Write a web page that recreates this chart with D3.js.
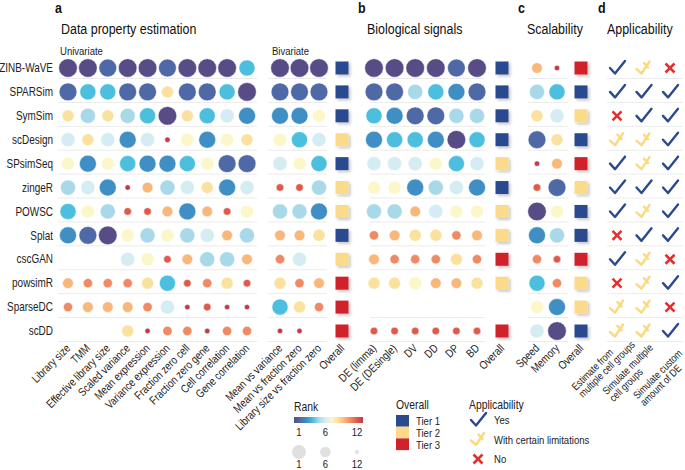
<!DOCTYPE html>
<html>
<head>
<meta charset="utf-8">
<script src="https://cdn.jsdelivr.net/npm/d3@7"></script>
<style>
body { margin: 0; background: #fff; }
svg { font-family: "Liberation Sans", Arial, sans-serif; }
</style>
</head>
<body>
<svg width="685" height="470"></svg>
<script>
// --- data ---
var methods = ["ZINB-WaVE", "SPARSim", "SymSim", "scDesign", "SPsimSeq", "zingeR", "POWSC", "Splat", "cscGAN", "powsimR", "SparseDC", "scDD"];

var univariateCols = ["Library size", "TMM", "Effective library size", "Scaled variance", "Mean expression", "Variance expression", "Fraction zero cell", "Fraction zero gene", "Cell correlation", "Gene correlation"];
var univariateRanks = [
    [1, 1, 2, 1, 1, 2, 1, 1, 1, 4],
    [2, 4, 4, 2, 2, 8, 2, 2, 4, 1],
    [8, 5, 8, 5, 4, 1, 8, 4, 6, 3],
    [6, 8, 6, 3, 6, 12, 7, 3, 7, 8],
    [7, 3, 7, 4, 3, 3, 4, 7, 2, 2],
    [5, 6, 3, 12, 9, 5, 6, 8, 3, 6],
    [4, 7, 5, 11, 11, 9, 3, 9, 11, 7],
    [3, 2, 1, 7, 5, 7, 5, 6, 9, 5],
    [null, null, null, 6, 7, 11, 9, 5, 5, 9],
    [9, 10, 10, 10, 8, 4, 11, 10, 8, 11],
    [10, 9, 9, 9, 10, 6, 12, 11, 12, 12],
    [null, null, null, 8, 12, 10, 10, 12, 10, 10]
];

var bivariateCols = ["Mean vs variance", "Mean vs fraction zero", "Library size vs fraction zero"];
var bivariateRanks = [
    [1, 1, 1], [2, 2, 2], [3, 3, 7], [7, 4, 6], [6, 7, 4], [11, 11, 5],
    [5, 5, 3], [9, 9, 8], [10, 6, null], [8, 10, 9], [4, 8, 10], [12, 12, null]
];
var propertyTier = [1, 1, 1, 2, 1, 2, 2, 1, 2, 3, 3, 3];

var bioCols = ["DE (limma)", "DE (DEsingle)", "DV", "DD", "DP", "BD"];
var bioRanks = [
    [1, 1, 1, 1, 2, 1],
    [2, 2, 5, 4, 3, 2],
    [4, 3, 2, 2, 5, 5],
    [3, 4, 4, 3, 1, 4],
    [6, 6, 6, 7, 4, 6],
    [7, 7, 3, 5, 6, 3],
    [5, 5, 9, 6, 7, 7],
    [10, 9, 8, 8, 10, 9],
    [9, 10, 10, 10, 8, 10],
    [8, 8, 7, 9, 9, 8],
    [null, null, null, null, null, null],
    [11, 11, 11, 11, 11, 11]
];
var bioTier = [1, 1, 1, 1, 2, 1, 2, 2, 3, 2, null, 3];

var scaleCols = ["Speed", "Memory"];
var scaleRanks = [
    [9, 12], [5, 4], [8, 6], [2, 8], [12, 9], [11, 2],
    [1, 7], [3, 5], [10, 11], [4, 10], [7, 3], [6, 1]
];
var scaleTier = [3, 1, 2, 1, 3, 2, 1, 1, 3, 2, 2, 1];

var applyCols = [["Estimate from", "multiple cell groups"], ["Simulate multiple", "cell groups"], ["Simulate custom", "amount of DE"]];
var applicability = [
    ["yes", "limited", "no"],
    ["yes", "yes", "yes"],
    ["no", "yes", "yes"],
    ["limited", "limited", "yes"],
    ["yes", "limited", "yes"],
    ["yes", "yes", "yes"],
    ["yes", "limited", "yes"],
    ["no", "yes", "yes"],
    ["yes", "limited", "no"],
    ["no", "limited", "yes"],
    ["limited", "limited", "no"],
    ["limited", "limited", "yes"]
];

var tierNames = ["Tier 1", "Tier 2", "Tier 3"];
var applyNames = [["yes", "Yes"], ["limited", "With certain limitations"], ["no", "No"]];
var rankTicks = [1, 6, 12];

// --- styles ---
var rankColors = ["#574c86", "#4f69a6", "#3f8fc5", "#4bbfdd", "#a9d9e9", "#d6ecf3",
                  "#fbf7cb", "#fbe19e", "#f8b87c", "#f08a64", "#df5a4b", "#c13a46"];
var tierColors = ["#2b4a8e", "#fbdb8a", "#d0222a"];
var applyColors = {yes: "#2b4a8e", limited: "#fbd97f", no: "#e0302f"};
var SQUEEZE = 0.83;   // the original font is narrower than Arial

var svg = d3.select("svg");

var defs = svg.append("defs");
defs.append("filter").attr("id", "shadow")
    .attr("x", "-50%").attr("y", "-50%").attr("width", "200%").attr("height", "200%")
  .append("feDropShadow")
    .attr("dx", 2).attr("dy", 2).attr("stdDeviation", 1.6)
    .attr("flood-color", "#000").attr("flood-opacity", 0.22);

var color = d3.scaleLinear().domain(d3.range(1, 13)).range(rankColors);
var size = d3.scaleSqrt().domain([0, 12]).range([0, 9.3]);

var y = d3.scalePoint().domain(methods).range([68, 331]);

var xUni = d3.scalePoint().domain(univariateCols).range([68, 247]);
var xBi = d3.scalePoint().domain(bivariateCols).range([280, 319]);
var xBio = d3.scalePoint().domain(bioCols).range([374, 477]);
var xScal = d3.scalePoint().domain(scaleCols).range([537, 557]);
var xApp = d3.scalePoint().domain(applyCols.map(function(d) { return d.join(" "); })).range([617, 670]);
var overallX = {a: 342, b: 502, c: 581};

// squeezed text helper
function txt(parent, x, yy, str, fs, opt) {
    opt = opt || {};
    var g = parent.append("g")
        .attr("transform", "translate(" + x + "," + yy + ")" + (opt.rot ? " rotate(" + opt.rot + ")" : "") + " scale(" + SQUEEZE + ",1)");
    return g.append("text")
        .attr("text-anchor", opt.anchor || "start")
        .attr("dy", opt.dy || null)
        .style("font-size", fs)
        .style("font-weight", opt.weight || "normal")
        .attr("fill", opt.fill || "#222")
        .text(str);
}

// row labels
var rowG = svg.append("g");
methods.forEach(function(m) {
    txt(rowG, 53, y(m), m, "12px", {anchor: "end", dy: "0.35em"});
});

// row separator lines
function rowLines(x0, x1, skip) {
    svg.append("g").selectAll("line")
        .data(methods)
        .enter().append("line")
        .attr("x1", x0).attr("x2", x1)
        .attr("y1", function(d) { return y(d) + 10.5; })
        .attr("y2", function(d) { return y(d) + 10.5; })
        .attr("stroke", "#ebebeb")
        .attr("stroke-width", 1)
        .style("display", function(d, i) { return skip && skip(i) ? "none" : null; });
}
rowLines(58, 257);
rowLines(268, 327);
rowLines(370, 485, function(i) { return i == 9; });
rowLines(528, 568);
rowLines(607, 683);

function dots(cols, ranks, x) {
    var cells = [];
    ranks.forEach(function(row, i) {
        row.forEach(function(r, j) {
            if (r != null) cells.push({m: methods[i], c: cols[j], r: r});
        });
    });
    svg.append("g").selectAll("circle")
        .data(cells)
        .enter().append("circle")
        .attr("cx", function(d) { return x(d.c); })
        .attr("cy", function(d) { return y(d.m); })
        .attr("r", function(d) { return size(13 - d.r); })
        .attr("fill", function(d) { return color(d.r); })
        .attr("stroke", "#fff")
        .attr("stroke-width", 0.5);
}
dots(univariateCols, univariateRanks, xUni);
dots(bivariateCols, bivariateRanks, xBi);
dots(bioCols, bioRanks, xBio);
dots(scaleCols, scaleRanks, xScal);

function squares(tiers, cx) {
    svg.append("g").selectAll("rect")
        .data(tiers.map(function(t, i) { return {m: methods[i], t: t}; }).filter(function(d) { return d.t != null; }))
        .enter().append("rect")
        .attr("x", cx - 6.5)
        .attr("y", function(d) { return y(d.m) - 6.5; })
        .attr("width", 13).attr("height", 13)
        .attr("fill", function(d) { return tierColors[d.t - 1]; })
        .attr("filter", "url(#shadow)");
}
squares(propertyTier, overallX.a);
squares(bioTier, overallX.b);
squares(scaleTier, overallX.c);

// applicability glyphs
function glyph(g, kind) {
    if (kind == "no") {
        g.append("path").attr("d", "M-4.5,-4.5L4.5,4.5M4.5,-4.5L-4.5,4.5")
            .attr("stroke", applyColors.no).attr("stroke-width", 2.6).attr("fill", "none");
    } else if (kind == "yes") {
        g.append("path").attr("d", "M-7,0L-2,5.5L8,-7")
            .attr("stroke", applyColors.yes).attr("stroke-width", 2.4)
            .attr("stroke-linecap", "round").attr("stroke-linejoin", "round").attr("fill", "none");
    } else {
        g.append("path").attr("d", "M-7,1L-2,5.5L6,-6.5M0.5,-5L4.5,-0.5")
            .attr("stroke", applyColors.limited).attr("stroke-width", 2.4)
            .attr("stroke-linecap", "round").attr("stroke-linejoin", "round").attr("fill", "none");
    }
}
applicability.forEach(function(row, i) {
    row.forEach(function(k, j) {
        var g = svg.append("g")
            .attr("transform", "translate(" + xApp(applyCols[j].join(" ")) + "," + y(methods[i]) + ")");
        glyph(g, k);
    });
});

// column labels
var colG = svg.append("g");
function colLabels(cols, x) {
    cols.forEach(function(c) {
        txt(colG, x(c) + 3, 349, c, "11.5px", {anchor: "end", rot: -45});
    });
}
colLabels(univariateCols, xUni);
colLabels(bivariateCols, xBi);
colLabels(bioCols, xBio);
colLabels(scaleCols, xScal);
["a", "b", "c"].forEach(function(k) {
    txt(colG, overallX[k] + 3, 349, "Overall", "11.5px", {anchor: "end", rot: -45});
});
// two-line labels: lines left-aligned, each block pushed a little further out
applyCols.forEach(function(lines, j) {
    var g = svg.append("g")
        .attr("transform", "translate(" + xApp(lines.join(" ")) + ",350) rotate(-45) scale(" + SQUEEZE + ",1)");
    g.selectAll("text").data(lines).enter().append("text")
        .attr("x", -58 / SQUEEZE)
        .attr("y", function(d, i) { return j * 6 + i * 10; })
        .style("font-size", "10.5px")
        .attr("fill", "#222")
        .text(function(d) { return d; });
});

// titles
var titleG = svg.append("g");
[[55, "a"], [358, "b"], [518, "c"], [598, "d"]].forEach(function(d) {
    txt(titleG, d[0], 13, d[1], "15px", {weight: "bold", fill: "#111"});
});
[[61, "Data property estimation"], [367, "Biological signals"], [527, "Scalability"], [607, "Applicability"]].forEach(function(d) {
    txt(titleG, d[0], 34, d[1], "15px", {fill: "#111"});
});
txt(titleG, 60, 55, "Univariate", "11.5px");
txt(titleG, 272, 55, "Bivariate", "11.5px");

// rank legend
var lg = svg.append("g");
txt(lg, 294, 411, "Rank", "12.5px");
var grad = defs.append("linearGradient").attr("id", "rankGrad");
grad.selectAll("stop").data(rankColors).enter().append("stop")
    .attr("offset", function(d, i) { return i / (rankColors.length - 1); })
    .attr("stop-color", function(d) { return d; });
var xLeg = d3.scaleLinear().domain([1, 12]).range([299, 357]);
lg.append("rect").attr("x", 294).attr("y", 417).attr("width", 69).attr("height", 6).attr("fill", "url(#rankGrad)");
rankTicks.forEach(function(d) {
    txt(lg, xLeg(d), 436, d, "11.5px", {anchor: "middle"});
    txt(lg, xLeg(d), 468, d, "11.5px", {anchor: "middle"});
});
lg.selectAll("circle").data(rankTicks).enter().append("circle")
    .attr("cx", function(d) { return xLeg(d); }).attr("cy", 452)
    .attr("r", function(d) { return size(13 - d) * 0.75; })
    .attr("fill", "#e0e0e0");

// tier legend
var tg = svg.append("g");
txt(tg, 396, 409, "Overall", "12.5px");
tierNames.forEach(function(name, i) {
    tg.append("rect").attr("x", 396).attr("y", 415 + i * 11.7).attr("width", 13).attr("height", 11.7)
        .attr("fill", tierColors[i]);
    txt(tg, 416, 425 + i * 12.2, name, "11.5px");
});

// applicability legend
var ag = svg.append("g");
txt(ag, 469, 409, "Applicability", "12.5px");
applyNames.forEach(function(d, i) {
    glyph(ag.append("g").attr("transform", "translate(478," + (420 + i * 19.5) + ")"), d[0]);
    txt(ag, 494, 424 + i * 19.5, d[1], "11.5px");
});
</script>
</body>
</html>
